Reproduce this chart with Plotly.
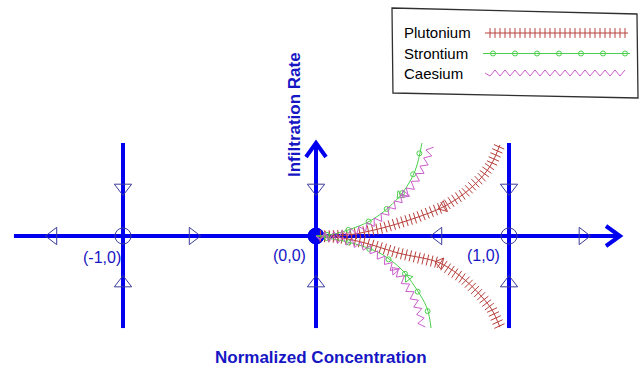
import numpy as np
import plotly.graph_objects as go

W, H = 644, 370
X_RANGE = [-1.6373, 1.6995]
Y_RANGE = [-0.6943, 1.2228]
KX = W / (X_RANGE[1] - X_RANGE[0])   # pixels per unit, x
KY = H / (Y_RANGE[1] - Y_RANGE[0])   # pixels per unit, y

AXIS_BLUE = "#0000ee"
FLOW_NAVY = "#3c3c9a"
LABEL_BLUE = "#1616c4"
PU_COLOR = "#b8403c"
SR_COLOR = "#4ccf4c"
CS_COLOR = "#cc5ccc"
FONT = "Liberation Sans, Arial, sans-serif"

# Equilibria of the concentration / infiltration-rate system
eq_x = [-1, 0, 1]
eq_y = [0, 0, 0]
eq_labels = ["(-1,0)", "(0,0)", "(1,0)"]
eq_label_x = [-1.11, -0.135, 0.87]
eq_label_y = [-0.11, -0.10, -0.10]

# Flow direction along the concentration axis
hflow_x = [-1.363, -0.637, 0.632, 1.383]
hflow_dir = ["left", "right", "left", "right"]
# Flow direction along each equilibrium line
vflow_above_y = 0.249    # pointing down, above the axis
vflow_below_y = -0.244   # pointing up, below the axis

# Trajectories (normalized concentration, infiltration rate)
series_names = ["Plutonium", "Strontium", "Caesium"]

pu_up_x = [0, 0.083, 0.166, 0.342, 0.513, 0.658, 0.772, 0.860, 0.912, 0.953]
pu_up_y = [0, 0.001, 0.005, 0.041, 0.093, 0.150, 0.223, 0.306, 0.378, 0.472]
pu_lo_x = [0, 0.120, 0.254, 0.425, 0.642, 0.772, 0.860, 0.912, 0.953]
pu_lo_y = [0, -0.008, -0.036, -0.088, -0.140, -0.228, -0.316, -0.383, -0.472]

sr_up_x = [0, 0.083, 0.166, 0.280, 0.373, 0.451, 0.513, 0.549]
sr_up_y = [0, 0.008, 0.031, 0.078, 0.145, 0.228, 0.337, 0.482]
sr_lo_x = [0, 0.150, 0.254, 0.347, 0.446, 0.513, 0.575, 0.596]
sr_lo_y = [0, -0.028, -0.057, -0.098, -0.176, -0.264, -0.373, -0.477]

cs_up_x = [0, 0.100, 0.218, 0.280, 0.342, 0.425, 0.497, 0.549, 0.580, 0.596]
cs_up_y = [0, 0.004, 0.028, 0.057, 0.098, 0.176, 0.254, 0.342, 0.409, 0.482]
cs_lo_x = [0, 0.166, 0.269, 0.368, 0.446, 0.503, 0.539, 0.549]
cs_lo_y = [0, -0.030, -0.062, -0.135, -0.218, -0.316, -0.399, -0.477]

# where the direction arrows sit on each branch (x position)
pu_arrow_x = [0.658, 0.642]
sr_arrow_x = [0.435, 0.477]
cs_arrow_x = [0.461, 0.409]

# extents of the axis lines
AXIS_LEFT, AXIS_RIGHT = -1.565, 1.575
LINE_TOP, LINE_BOTTOM = 0.482, -0.477


def px_to_data(px, py):
    return X_RANGE[0] + px / KX, Y_RANGE[1] - py / KY


def walk(xs, ys, step, start=0.0):
    """Positions every `step` pixels along a polyline, with heading and normal."""
    px = np.asarray(xs, float) * KX
    py = np.asarray(ys, float) * KY
    seg = np.hypot(np.diff(px), np.diff(py))
    cum = np.concatenate([[0.0], np.cumsum(seg)])
    d = np.arange(start, cum[-1] + 1e-9, step)
    i = np.clip(np.searchsorted(cum, d, side="right") - 1, 0, len(seg) - 1)
    t = (d - cum[i]) / seg[i]
    dx = px[i + 1] - px[i]
    dy = py[i + 1] - py[i]
    sx = px[i] + t * dx
    sy = py[i] + t * dy
    ang = np.degrees(np.arctan2(dx, dy))
    nx, ny = -dy / seg[i], dx / seg[i]
    return sx, sy, ang, nx, ny


def ticks_trace(xs, ys, color, step=4.4, size=8):
    sx, sy, ang, _, _ = walk(xs, ys, step, start=step)
    return go.Scatter(x=sx / KX, y=sy / KY, mode="markers", hoverinfo="skip",
                      marker=dict(symbol="line-ew", size=size, angle=ang,
                                  color=color, line=dict(color=color, width=1)))


def circles_trace(xs, ys, color, step=22, start=11):
    sx, sy, _, _, _ = walk(xs, ys, step, start=start)
    return go.Scatter(x=sx / KX, y=sy / KY, mode="markers", hoverinfo="skip",
                      marker=dict(symbol="circle-open", size=5, color=color,
                                  line=dict(color=color, width=1)))


def zigzag_trace(xs, ys, color, half=4.5, amp=3.5):
    sx, sy, _, nx, ny = walk(xs, ys, half)
    sign = np.where(np.arange(len(sx)) % 2 == 0, 1.0, -1.0)
    sign[0] = 0.0
    zx = sx + amp * sign * nx
    zy = sy + amp * sign * ny
    return go.Scatter(x=zx / KX, y=zy / KY, mode="lines", hoverinfo="skip",
                      line=dict(color=color, width=1))


def curve_arrow(xs, ys, at_x, color, size):
    y_at = float(np.interp(at_x, xs, ys)) if ys[-1] > 0 else float(np.interp(at_x, xs, ys))
    k = int(np.clip(np.searchsorted(xs, at_x), 1, len(xs) - 1))
    heading = np.degrees(np.arctan2((xs[k] - xs[k - 1]) * KX, (ys[k] - ys[k - 1]) * KY))
    return go.Scatter(x=[at_x], y=[y_at], mode="markers", hoverinfo="skip",
                      marker=dict(symbol="triangle-up-open", size=size, angle=heading + 180,
                                  color=color, line=dict(color=color, width=1)))


def chevron(tx, ty, direction, back=14, half=10):
    if direction == "right":
        xs = [tx - back / KX, tx, tx - back / KX]
        ys = [ty + half / KY, ty, ty - half / KY]
    else:  # up
        xs = [tx - half / KX, tx, tx + half / KX]
        ys = [ty - back / KY, ty, ty - back / KY]
    return go.Scatter(x=xs, y=ys, mode="lines", hoverinfo="skip",
                      line=dict(color=AXIS_BLUE, width=4))


fig = go.Figure()

# concentration axis and equilibrium lines
fig.add_trace(go.Scatter(x=[AXIS_LEFT, AXIS_RIGHT], y=[0, 0], mode="lines",
                         line=dict(color=AXIS_BLUE, width=4), hoverinfo="skip"))
for ex in eq_x:
    fig.add_trace(go.Scatter(x=[ex, ex], y=[LINE_BOTTOM, LINE_TOP], mode="lines",
                             line=dict(color=AXIS_BLUE, width=4), hoverinfo="skip"))
fig.add_trace(chevron(AXIS_RIGHT, 0, "right"))
fig.add_trace(chevron(0, LINE_TOP, "up"))

# flow direction triangles
fig.add_trace(go.Scatter(
    x=hflow_x, y=[0] * len(hflow_x), mode="markers", hoverinfo="skip",
    marker=dict(symbol=["triangle-%s-open" % d for d in hflow_dir], size=15,
                color=FLOW_NAVY, line=dict(color=FLOW_NAVY, width=1))))
fig.add_trace(go.Scatter(
    x=eq_x, y=[vflow_above_y] * len(eq_x), mode="markers", hoverinfo="skip",
    marker=dict(symbol="triangle-down-open", size=15,
                color=FLOW_NAVY, line=dict(color=FLOW_NAVY, width=1))))
fig.add_trace(go.Scatter(
    x=eq_x, y=[vflow_below_y] * len(eq_x), mode="markers", hoverinfo="skip",
    marker=dict(symbol="triangle-up-open", size=15,
                color=FLOW_NAVY, line=dict(color=FLOW_NAVY, width=1))))

# equilibria: stable origin filled, the others open
fig.add_trace(go.Scatter(
    x=eq_x, y=eq_y, mode="markers", hoverinfo="skip",
    marker=dict(symbol=["circle-open", "circle", "circle-open"], size=16,
                color=[FLOW_NAVY, AXIS_BLUE, FLOW_NAVY],
                line=dict(color=[FLOW_NAVY, AXIS_BLUE, FLOW_NAVY], width=1))))

# Plutonium: line with cross ticks
for xs, ys, ax in [(pu_up_x, pu_up_y, pu_arrow_x[0]), (pu_lo_x, pu_lo_y, pu_arrow_x[1])]:
    fig.add_trace(go.Scatter(x=xs, y=ys, mode="lines", hoverinfo="skip",
                             line=dict(color=PU_COLOR, width=1, shape="spline")))
    fig.add_trace(ticks_trace(xs, ys, PU_COLOR))
    fig.add_trace(curve_arrow(xs, ys, ax, PU_COLOR, 10))

# Strontium: thin line with open circles
for xs, ys, ax in [(sr_up_x, sr_up_y, sr_arrow_x[0]), (sr_lo_x, sr_lo_y, sr_arrow_x[1])]:
    fig.add_trace(go.Scatter(x=xs, y=ys, mode="lines", hoverinfo="skip",
                             line=dict(color=SR_COLOR, width=1, shape="spline")))
    fig.add_trace(circles_trace(xs, ys, SR_COLOR))
    fig.add_trace(curve_arrow(xs, ys, ax, SR_COLOR, 8))

# Caesium: zigzag line
for xs, ys, ax in [(cs_up_x, cs_up_y, cs_arrow_x[0]), (cs_lo_x, cs_lo_y, cs_arrow_x[1])]:
    fig.add_trace(zigzag_trace(xs, ys, CS_COLOR))
    fig.add_trace(curve_arrow(xs, ys, ax, CS_COLOR, 8))

# legend samples
legend_rows_py = [33, 53.5, 73]
lx0, _ = px_to_data(485, 0)
lx1, _ = px_to_data(628, 0)
_, ly_pu = px_to_data(0, legend_rows_py[0])
_, ly_sr = px_to_data(0, legend_rows_py[1])
_, ly_cs = px_to_data(0, legend_rows_py[2])
fig.add_trace(go.Scatter(x=[lx0, lx1], y=[ly_pu, ly_pu], mode="lines", hoverinfo="skip",
                         line=dict(color=PU_COLOR, width=1)))
fig.add_trace(ticks_trace([lx0, lx1], [ly_pu, ly_pu], PU_COLOR, step=5, size=7))
fig.add_trace(go.Scatter(x=[lx0 - 2 / KX, lx1 + 2 / KX], y=[ly_sr, ly_sr], mode="lines",
                         hoverinfo="skip", line=dict(color=SR_COLOR, width=1)))
fig.add_trace(circles_trace([lx0, lx1], [ly_sr, ly_sr], SR_COLOR, step=22, start=8))
fig.add_trace(zigzag_trace([lx0, lx1 - 2 / KX], [ly_cs, ly_cs], CS_COLOR, half=5, amp=3))

annotations = []
for name, py in zip(series_names, legend_rows_py):
    annotations.append(dict(text=name, x=402 / W, y=1 - py / H, xref="paper", yref="paper",
                            xanchor="left", yanchor="middle", showarrow=False,
                            font=dict(family=FONT, size=15, color="#000000")))
for lab, lxp, lyp in zip(eq_labels, eq_label_x, eq_label_y):
    annotations.append(dict(text=lab, x=lxp, y=lyp, xref="x", yref="y",
                            xanchor="center", yanchor="middle", showarrow=False,
                            font=dict(family=FONT, size=16, color=LABEL_BLUE)))
annotations.append(dict(text="<b>Normalized Concentration</b>", x=321 / W, y=1 - 357 / H,
                        xref="paper", yref="paper", xanchor="center", yanchor="middle",
                        showarrow=False, font=dict(family=FONT, size=17, color=LABEL_BLUE)))
annotations.append(dict(text="<b>Infiltration Rate</b>", x=295 / W, y=1 - 115 / H,
                        xref="paper", yref="paper", xanchor="center", yanchor="middle",
                        textangle=-90, showarrow=False,
                        font=dict(family=FONT, size=17, color=LABEL_BLUE)))

# legend frame (slightly skewed)
corners = [(392, 8), (637, 14), (638, 98), (393, 93)]
path = "M " + " L ".join("%.4f,%.4f" % (cx / W, 1 - cy / H) for cx, cy in corners) + " Z"
shapes = [dict(type="path", path=path, xref="paper", yref="paper",
               line=dict(color="#303030", width=1.3), fillcolor="rgba(0,0,0,0)")]

fig.update_layout(
    width=W, height=H, margin=dict(l=0, r=0, t=0, b=0),
    paper_bgcolor="white", plot_bgcolor="white", showlegend=False,
    xaxis=dict(range=X_RANGE, visible=False, fixedrange=True),
    yaxis=dict(range=Y_RANGE, visible=False, fixedrange=True),
    annotations=annotations, shapes=shapes,
)

fig.write_html("out.html")
